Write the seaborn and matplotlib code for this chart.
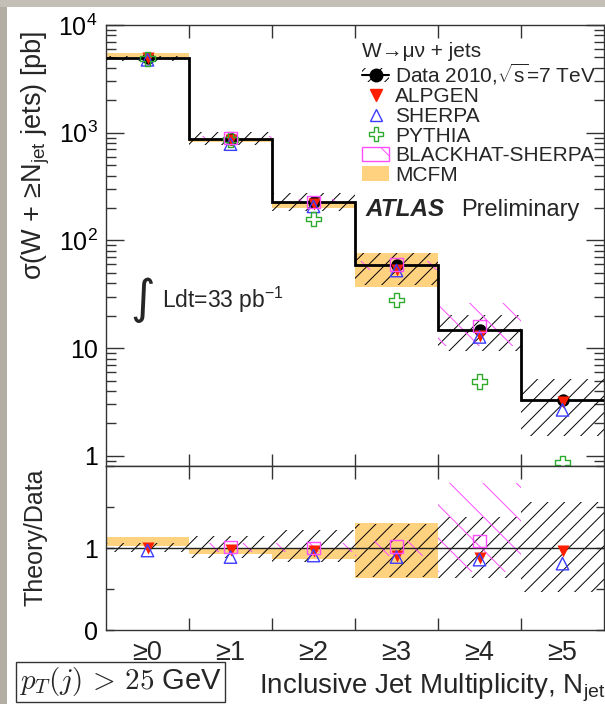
import numpy as np
import pandas as pd
import matplotlib
matplotlib.use("Agg")
import matplotlib.pyplot as plt
from matplotlib.lines import Line2D
from matplotlib.patches import Patch, Rectangle
from matplotlib.ticker import FixedLocator, NullFormatter, LogLocator, FixedFormatter
import seaborn as sns

# ---- inclusive jet multiplicity bins ----
jet_labels = ["≥0", "≥1", "≥2", "≥3", "≥4", "≥5"]
jet_bins = [0, 1, 2, 3, 4, 5]

# measured cross section [pb] and its relative uncertainty band
data_xsec = [4900, 880, 228, 59, 14.8, 3.3]
data_rel_lo = [0.95, 0.88, 0.83, 0.65, 0.64, 0.46]
data_rel_hi = [1.06, 1.15, 1.22, 1.29, 1.38, 1.56]

# generator predictions [pb]
alpgen = [4900, 862, 219, 53.1, 13.0, 3.17]
sherpa = [4750, 783, 207, 52.5, 12.7, 2.67]
pythia = [4850, 860, 158, 28.0, 4.9, 0.86]

# NLO predictions
blackhat_bins = [1, 2, 3, 4]
blackhat = [890, 228, 60, 16.1]
blackhat_rel_lo = [0.95, 0.95, 0.90, 0.71]
blackhat_rel_hi = [1.06, 1.06, 1.08, 1.79]

mcfm_bins = [0, 1, 2, 3]
mcfm_rel_lo = [1.02, 0.93, 0.87, 0.63]
mcfm_rel_hi = [1.13, 1.00, 1.00, 1.30]

RED = "#ff1e00"
BLUE = "#3c3cff"
GREEN = "#2eaa2e"
MAGENTA = "#ff4dff"
ORANGE = "#ffd27f"

sns.set_theme(style="ticks")
plt.rcParams["font.family"] = ["Liberation Sans", "DejaVu Sans"]
plt.rcParams["mathtext.fontset"] = "custom"
plt.rcParams["mathtext.rm"] = "Liberation Sans"
plt.rcParams["mathtext.it"] = "Liberation Sans:italic"
plt.rcParams["mathtext.bf"] = "Liberation Sans:bold"
plt.rcParams["hatch.linewidth"] = 0.7
plt.rcParams["axes.edgecolor"] = "#333333"
plt.rcParams["axes.linewidth"] = 1.0

W, H = 605, 704
fig = plt.figure(figsize=(W / 100, H / 100), dpi=100)
fig.patch.set_facecolor("white")
# slide frame along the top and left
fig.patches.append(Rectangle((0, 0), 7 / W, 1, transform=fig.transFigure,
                             facecolor="#b2aea4", edgecolor="none", zorder=-5))
fig.patches.append(Rectangle((0, 1 - 7 / H), 1, 7 / H, transform=fig.transFigure,
                             facecolor="#c3bfb6", edgecolor="none", zorder=-5))

ax = fig.add_axes([106 / W, 1 - 466 / H, 498 / W, 441 / H])
axr = fig.add_axes([106 / W, 1 - 630 / H, 498 / W, 164 / H])

x = np.array(jet_bins, dtype=float)
d = np.array(data_xsec)
edges = np.arange(-0.5, 6.0, 1.0)


def band(axis, xs, lo, hi, **kw):
    lo = np.asarray(lo, float)
    hi = np.asarray(hi, float)
    axis.bar(xs, hi - lo, bottom=lo, width=1.0, align="center", **kw)


def points(axis, xs, ys, marker, color, size, filled=True, lw=1.0, z=5):
    frame = pd.DataFrame({"bin": xs, "value": ys})
    if filled:
        sns.scatterplot(data=frame, x="bin", y="value", ax=axis, marker=marker, s=size,
                        color=color, edgecolor=color, linewidth=0, zorder=z, legend=False)
    else:
        sns.scatterplot(data=frame, x="bin", y="value", ax=axis, marker=marker, s=size,
                        color=color, facecolor="none", edgecolor=color, linewidth=lw,
                        zorder=z, legend=False)


# ---------------- upper panel: cross sections ----------------
mb = np.array(mcfm_bins)
band(ax, mb, d[mb] * np.array(mcfm_rel_lo), d[mb] * np.array(mcfm_rel_hi),
     color=ORANGE, linewidth=0, zorder=1)
band(ax, x, d * np.array(data_rel_lo), d * np.array(data_rel_hi),
     facecolor="none", edgecolor="black", hatch="//", linewidth=0, zorder=2)
bb = np.array(blackhat_bins)
band(ax, bb, d[bb] * np.array(blackhat_rel_lo), d[bb] * np.array(blackhat_rel_hi),
     facecolor="none", edgecolor=MAGENTA, hatch="\\", linewidth=0, zorder=2)
ax.stairs(d, edges, baseline=None, color="black", linewidth=2.0, zorder=3)

points(ax, x, d, "o", "black", 80, z=4)
points(ax, x, alpgen, "v", RED, 75, z=5)
points(ax, x, sherpa, "^", BLUE, 80, filled=False, lw=1.0, z=6)
points(ax, x, pythia, "P", GREEN, 110, filled=False, lw=1.0, z=6)
points(ax, bb, blackhat, "s", MAGENTA, 80, filled=False, lw=1.0, z=7)

ax.set_yscale("log")
ax.set_xlim(-0.5, 5.5)
ax.set_ylim(0.804, 1e4)
ax.set_xlabel("")
ax.set_ylabel("")

ax.yaxis.set_major_locator(FixedLocator([1, 10, 100, 1000, 10000]))
ax.yaxis.set_major_formatter(FixedFormatter(
    ["1", "10", r"$\mathregular{10^{2}}$", r"$\mathregular{10^{3}}$", r"$\mathregular{10^{4}}$"]))
ax.yaxis.set_minor_locator(LogLocator(base=10, subs=np.arange(2, 10), numticks=20))
ax.yaxis.set_minor_formatter(NullFormatter())
ax.tick_params(axis="y", which="major", direction="in", length=13, width=1,
               left=True, right=True, labelsize=18, pad=6, colors="#333333", labelcolor="black")
ax.tick_params(axis="y", which="minor", direction="in", length=7, width=1,
               left=True, right=True, colors="#333333")

for a in (ax, axr):
    a.xaxis.set_major_locator(FixedLocator(x))
    a.xaxis.set_minor_locator(FixedLocator(edges[1:-1]))
    a.tick_params(axis="x", which="major", length=0, pad=7)
    a.tick_params(axis="x", which="minor", direction="in", length=9, width=1,
                  top=True, bottom=True, colors="#333333")
ax.set_xticklabels([])

# ---------------- lower panel: theory / data ----------------
band(axr, mb, mcfm_rel_lo, mcfm_rel_hi, color=ORANGE, linewidth=0, zorder=1)
band(axr, x, data_rel_lo, data_rel_hi, facecolor="none", edgecolor="black",
     hatch="//", linewidth=0, zorder=2)
band(axr, bb, blackhat_rel_lo, blackhat_rel_hi, facecolor="none", edgecolor=MAGENTA,
     hatch="\\", linewidth=0, zorder=2)
axr.axhline(1.0, color="#222222", linewidth=1.0, zorder=3)

points(axr, x, np.array(alpgen) / d, "v", RED, 75, z=5)
points(axr, x, np.array(sherpa) / d, "^", BLUE, 80, filled=False, lw=1.0, z=6)
points(axr, bb, np.array(blackhat) / d[bb], "s", MAGENTA, 80, filled=False, lw=1.0, z=7)

axr.set_xlim(-0.5, 5.5)
axr.set_ylim(0, 2)
axr.set_xlabel("")
axr.set_ylabel("")
axr.set_xticklabels(jet_labels, fontsize=19.5)
axr.yaxis.set_major_locator(FixedLocator([0, 1, 2]))
axr.yaxis.set_major_formatter(FixedFormatter(["0", "1", ""]))
axr.yaxis.set_minor_locator(FixedLocator([0.5, 1.5]))
axr.tick_params(axis="y", which="both", direction="in", length=6, width=1,
                left=True, right=True, labelsize=18, pad=6, colors="#333333", labelcolor="black")

# ---------------- labels and annotations ----------------
fig.text(36 / W, 1 - 155 / H, r"σ(W + ≥N$_{\mathregular{jet}}$ jets) [pb]",
         rotation=90, ha="center", va="center", fontsize=19.5)
fig.text(36 / W, 1 - 537 / H, "Theory/Data", rotation=90, ha="center", va="center",
         fontsize=18)
fig.text(1.0, 1 - 688 / H, r"Inclusive Jet Multiplicity, N$_{\mathregular{jet}}$",
         ha="right", va="center", fontsize=20)
fig.text(19 / W, 1 - 682 / H, r"$p_T(j)\,>\,25$ GeV", ha="left", va="center",
         fontsize=21, math_fontfamily="cm",
         bbox=dict(boxstyle="square,pad=0.12", facecolor="white", edgecolor="#333333",
                   linewidth=1))

ax.text(0.074, 0.376, "∫", transform=ax.transAxes, ha="center", va="center",
        fontsize=34, family="DejaVu Sans")
ax.text(0.112, 0.376, r"Ldt=33 pb$^{\mathregular{-1}}$", transform=ax.transAxes,
        ha="left", va="center", fontsize=16.5)

ax.text(0.522, 0.5805, "ATLAS", transform=ax.transAxes, ha="left", va="center",
        fontsize=17.5, fontweight="bold", fontstyle="italic")
ax.text(0.714, 0.5805, "Preliminary", transform=ax.transAxes, ha="left", va="center",
        fontsize=17)

handles = [
    (Patch(facecolor="none", edgecolor="black", hatch="//", linewidth=0),
     Line2D([], [], color="black", marker="o", markersize=9, linewidth=1.5)),
    Line2D([], [], linestyle="", marker="v", color=RED, markersize=9),
    Line2D([], [], linestyle="", marker="^", markerfacecolor="none",
           markeredgecolor=BLUE, markersize=9, markeredgewidth=1.0),
    Line2D([], [], linestyle="", marker="P", markerfacecolor="none",
           markeredgecolor=GREEN, markersize=10, markeredgewidth=1.0),
    Patch(facecolor="none", edgecolor=MAGENTA, hatch="\\", linewidth=1.0),
    Patch(facecolor=ORANGE, edgecolor="none"),
]
labels = [r"Data 2010,$\sqrt{\mathregular{s}}$=7 TeV", "ALPGEN", "SHERPA", "PYTHIA",
          "BLACKHAT-SHERPA", "MCFM"]
leg = ax.legend(handles, labels, title="W→μν + jets", loc="upper left",
                bbox_to_anchor=(0.514, 0.962), frameon=False, fontsize=15,
                title_fontsize=15, alignment="left", borderpad=0, borderaxespad=0,
                handlelength=1.3, handletextpad=0.3, labelspacing=0.03,
                handleheight=0.7)
leg.set_zorder(10)

fig.savefig("out.png", dpi=100)
